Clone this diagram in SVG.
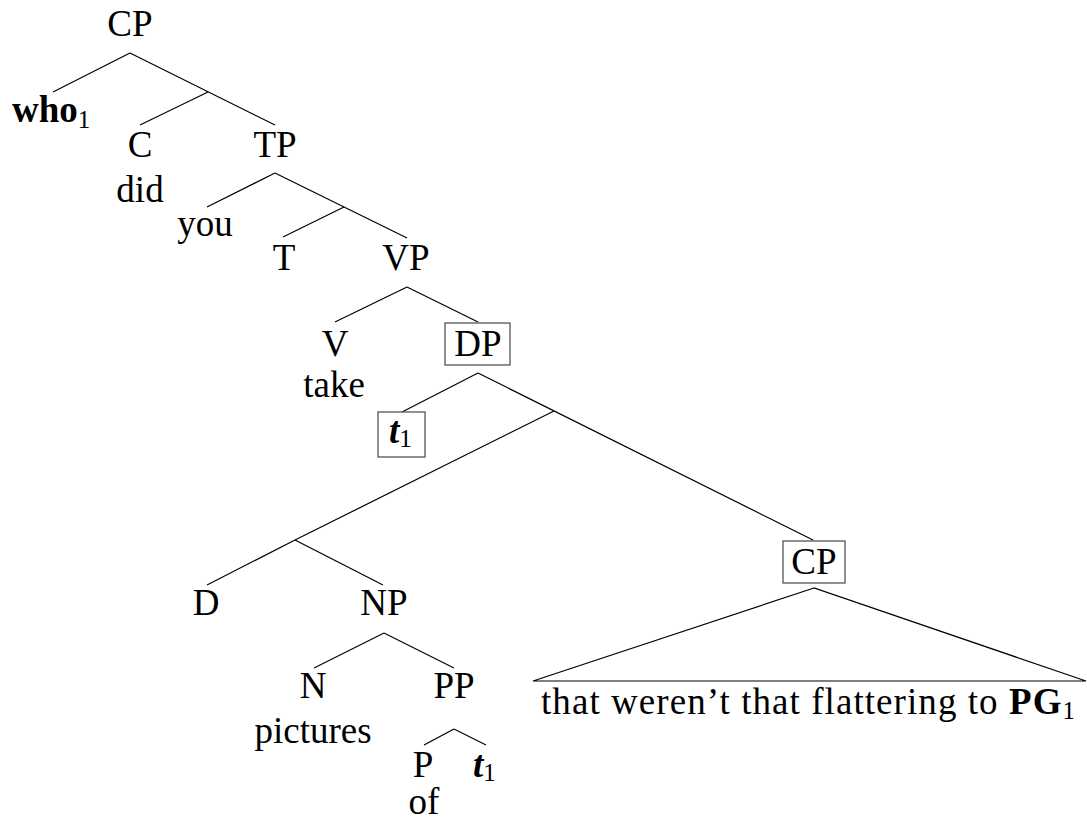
<svg xmlns="http://www.w3.org/2000/svg" width="1087" height="823" viewBox="0 0 1087 823">
<style>
text{font-family:"Liberation Serif","Times New Roman","DejaVu Serif",serif;font-size:37px;fill:#000}
.m{text-anchor:middle}
.b{font-weight:bold}
.bi{font-weight:bold;font-style:italic}
.sub{font-size:25px}
.edge{stroke:#000;stroke-width:1.2;fill:none}
.box{fill:none;stroke:#555;stroke-width:1.3}
</style>
<rect width="1087" height="823" fill="#fff"/>
<g id="connectors">
<line class="edge" x1="130" y1="53" x2="53" y2="92"/>
<line class="edge" x1="130" y1="53" x2="275" y2="125"/>
<line class="edge" x1="208" y1="92" x2="140" y2="125"/>
<line class="edge" x1="275" y1="173" x2="207" y2="207"/>
<line class="edge" x1="275" y1="173" x2="407" y2="238"/>
<line class="edge" x1="344" y1="207" x2="283" y2="237"/>
<line class="edge" x1="407" y1="287" x2="335" y2="322"/>
<line class="edge" x1="407" y1="287" x2="478" y2="322"/>
<line class="edge" x1="478" y1="373" x2="402" y2="412"/>
<line class="edge" x1="478" y1="373" x2="813" y2="540"/>
<line class="edge" x1="554" y1="411" x2="295" y2="540"/>
<line class="edge" x1="295" y1="540" x2="207" y2="585"/>
<line class="edge" x1="295" y1="540" x2="383" y2="585"/>
<line class="edge" x1="384" y1="633" x2="314" y2="668"/>
<line class="edge" x1="384" y1="633" x2="454" y2="668"/>
<line class="edge" x1="454" y1="729" x2="424" y2="745"/>
<line class="edge" x1="454" y1="729" x2="486" y2="745"/>
<polygon class="edge" points="814,588 533,681 1086,681"/>
</g>
<g id="n-cp-root"><text class="m" x="130" y="36">CP</text></g>
<g id="n-who"><text x="12" y="122"><tspan class="b">who</tspan><tspan class="sub" dy="6">1</tspan></text></g>
<g id="n-c"><text class="m" x="140" y="157">C</text><text class="m" x="140" y="202">did</text></g>
<g id="n-tp"><text class="m" x="275" y="157">TP</text></g>
<g id="n-you"><text class="m" x="205" y="236">you</text></g>
<g id="n-t"><text class="m" x="284" y="270">T</text></g>
<g id="n-vp"><text class="m" x="406" y="270">VP</text></g>
<g id="n-v"><text class="m" x="335" y="356">V</text><text class="m" x="334" y="397">take</text></g>
<g id="n-dp"><rect class="box" x="445" y="323" width="65" height="42"/><text class="m" x="478" y="356">DP</text></g>
<g id="n-t1-box"><rect class="box" x="378" y="412" width="47" height="45"/><text x="389" y="443"><tspan class="bi">t</tspan><tspan class="sub" dy="4">1</tspan></text></g>
<g id="n-d"><text class="m" x="206" y="615">D</text></g>
<g id="n-np"><text class="m" x="384" y="615">NP</text></g>
<g id="n-cp-box"><rect class="box" x="783" y="541" width="62" height="42"/><text class="m" x="814" y="574">CP</text></g>
<g id="n-n"><text class="m" x="313" y="698">N</text><text class="m" x="313" y="743">pictures</text></g>
<g id="n-pp"><text class="m" x="454" y="698">PP</text></g>
<g id="n-p"><text class="m" x="423" y="777">P</text><text class="m" x="424" y="814">of</text></g>
<g id="n-t1"><text x="473" y="777"><tspan class="bi">t</tspan><tspan class="sub" dy="4">1</tspan></text></g>
<g id="n-triangle-text"><text x="541" y="714" textLength="534" lengthAdjust="spacing">that weren’t that flattering to <tspan class="b">PG</tspan><tspan class="sub" dy="5">1</tspan></text></g>
</svg>
